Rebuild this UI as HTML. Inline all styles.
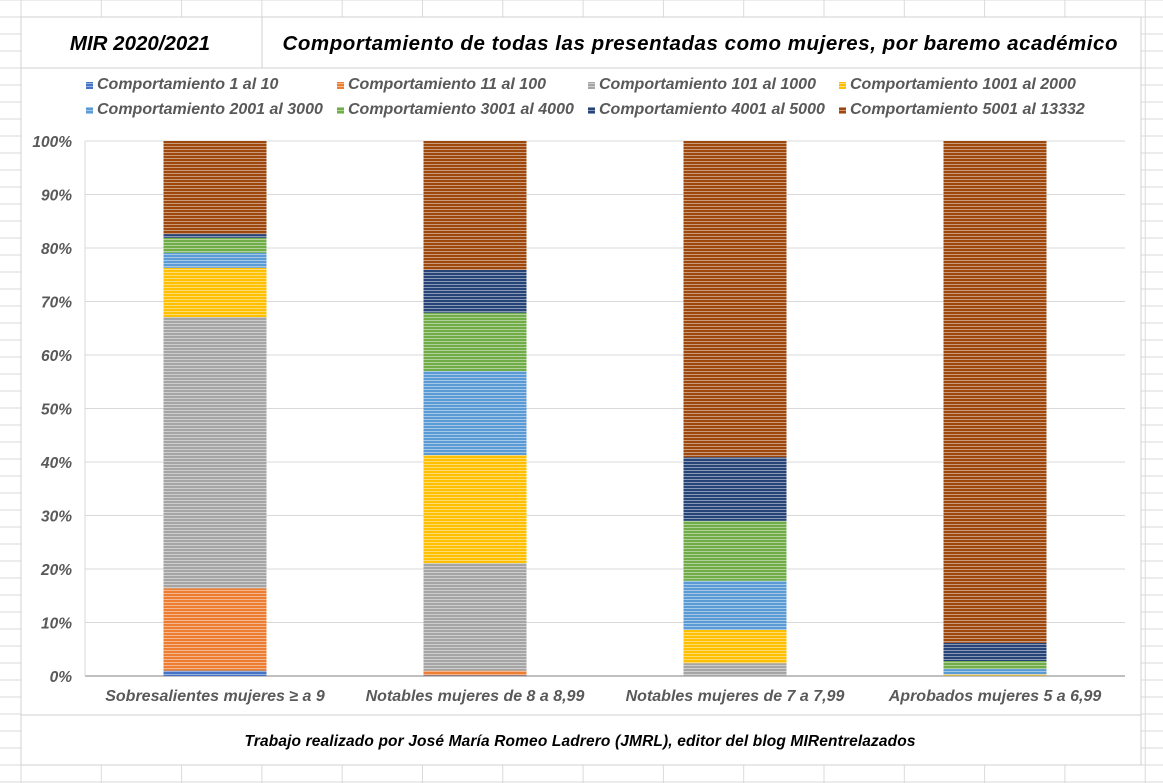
<!DOCTYPE html>
<html><head><meta charset="utf-8"><style>
body{margin:0;width:1163px;height:783px;overflow:hidden;background:#fff;font-family:"Liberation Sans",sans-serif}
svg{display:block}
</style></head><body>
<svg id="chart" width="1163" height="783" xmlns="http://www.w3.org/2000/svg">
<defs id="defs"></defs>
<g id="sheetgrid"></g>
<rect x="21" y="17" width="1120" height="748" fill="#fff" stroke="#d0d0d0"/>
<line x1="21" y1="68" x2="1141" y2="68" stroke="#d0d0d0"/>
<line x1="262" y1="17" x2="262" y2="68" stroke="#d0d0d0"/>
<line x1="21" y1="715" x2="1141" y2="715" stroke="#d0d0d0"/>
<text x="140" y="50" text-anchor="middle" font-size="20.5" font-weight="bold" font-style="italic" fill="#000">MIR 2020/2021</text>
<text x="700" y="50" text-anchor="middle" font-size="20.5" font-weight="bold" font-style="italic" fill="#000" textLength="835">Comportamiento de todas las presentadas como mujeres, por baremo académico</text>
<text x="580" y="746" text-anchor="middle" font-size="15.5" font-weight="bold" font-style="italic" fill="#000" textLength="671">Trabajo realizado por José María Romeo Ladrero (JMRL), editor del blog MIRentrelazados</text>
<g id="legend"></g>
<g id="axes"></g>
<g id="bars"></g>
</svg>
<script>
const categories=["Sobresalientes mujeres ≥ a 9","Notables mujeres de 8 a 8,99","Notables mujeres de 7 a 7,99","Aprobados mujeres 5 a 6,99"];
const seriesNames=["Comportamiento 1 al 10","Comportamiento 11 al 100","Comportamiento 101 al 1000","Comportamiento 1001 al 2000","Comportamiento 2001 al 3000","Comportamiento 3001 al 4000","Comportamiento 4001 al 5000","Comportamiento 5001 al 13332"];
const s1=[1.0,0.1,0.0,0.0];
const s2=[15.4,0.9,0.0,0.0];
const s3=[50.7,20.1,2.4,0.1];
const s4=[9.2,20.2,6.2,0.2];
const s5=[2.8,15.7,9.2,1.0];
const s6=[2.8,10.9,11.2,1.5];
const s7=[0.7,8.0,11.9,3.4];
const s8=[17.4,24.1,59.1,93.8];
const yTicks=[0,10,20,30,40,50,60,70,80,90,100];
const series=[s1,s2,s3,s4,s5,s6,s7,s8];
const colors=["#4472C4","#ED7D31","#A5A5A5","#FFC000","#5B9BD5","#70AD47","#264478","#9E480E"];
const NS="http://www.w3.org/2000/svg";
function mk(t,a,p){const e=document.createElementNS(NS,t);for(const k in a)e.setAttribute(k,a[k]);p.appendChild(e);return e;}
const X0=85,X1=1125,Y0=676,Y1=141;
const y=v=>Y0-(v/100)*(Y0-Y1);
const band=(X1-X0)/categories.length;
const xc=i=>X0+band*(i+0.5);
const BW=103;
const sg=document.getElementById('sheetgrid');
for(let gx=21;gx<1163;gx+=80.3)mk('line',{x1:gx,y1:0,x2:gx,y2:783,stroke:'#dadada'},sg);
for(let gy=0;gy<783;gy+=17)mk('line',{x1:0,y1:gy,x2:1163,y2:gy,stroke:'#dadada'},sg);
const defs=document.getElementById('defs');
colors.forEach((c,i)=>{const p=mk('pattern',{id:'p'+i,width:4,height:3,patternUnits:'userSpaceOnUse'},defs);
mk('rect',{x:0,y:0,width:4,height:3,fill:c},p);mk('rect',{x:0,y:2,width:4,height:1,fill:'#fff','fill-opacity':0.45},p);});
const ax=document.getElementById('axes');
yTicks.forEach(t=>{
const l=mk('line',{x1:X0,y1:y(t),x2:X1,y2:y(t),stroke:t===0?'#bfbfbf':'#d9d9d9','stroke-width':t===0?2:1},ax);


const tx=mk('text',{x:72,y:y(t)+6,'text-anchor':'end','font-size':15.5,'font-weight':'bold','font-style':'italic',fill:'#595959'},ax);
tx.textContent=t+'%';


});
mk('line',{x1:X0,y1:Y1,x2:X0,y2:Y0,stroke:'#d9d9d9'},ax);
categories.forEach((c,i)=>{
const tx=mk('text',{x:xc(i),y:701,'text-anchor':'middle','font-size':16,'font-weight':'bold','font-style':'italic',fill:'#595959'},ax);
tx.textContent=c;


});
const bg=document.getElementById('bars');
categories.forEach((c,i)=>{let cum=0;
series.forEach((s,k)=>{const v=s[i];if(v<=0){return;}
const r=mk('rect',{x:xc(i)-BW/2,y:y(cum+v),width:BW,height:y(cum)-y(cum+v),fill:'url(#p'+k+')'},bg);


cum+=v;});});
const lg=document.getElementById('legend');
seriesNames.forEach((n,k)=>{const col=k%4,row=Math.floor(k/4);const lx=86+col*251,ly=88+row*25;
const m=mk('rect',{x:lx,y:ly-6,width:7,height:7,fill:'url(#p'+k+')'},lg);


const t=mk('text',{x:lx+11,y:ly+1,'font-size':16,'font-weight':'bold','font-style':'italic',fill:'#595959'},lg);
t.textContent=n;


});
</script>
</body></html>
